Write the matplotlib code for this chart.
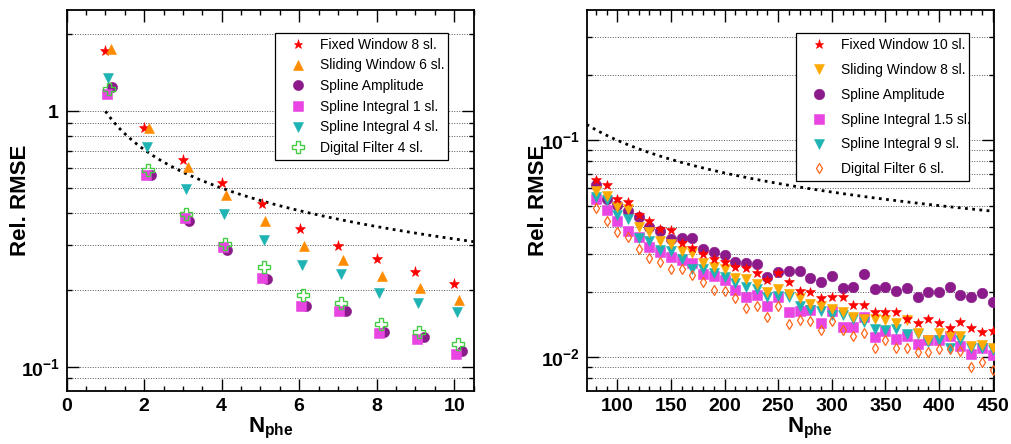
import numpy as np
import matplotlib
matplotlib.use('Agg')
import matplotlib.pyplot as plt
from matplotlib.ticker import FixedLocator, FixedFormatter, MultipleLocator, NullFormatter, FuncFormatter
from matplotlib.lines import Line2D

plt.rcParams['font.family'] = ['Liberation Sans', 'DejaVu Sans']
plt.rcParams['mathtext.fontset'] = 'custom'
plt.rcParams['mathtext.rm'] = 'Liberation Sans'
plt.rcParams['mathtext.bf'] = 'Liberation Sans:bold'
plt.rcParams['mathtext.it'] = 'Liberation Sans:italic'

# ---------------- left panel data ----------------
left_labels = ["Fixed Window 8 sl.", "Sliding Window 6 sl.", "Spline Amplitude",
               "Spline Integral 1 sl.", "Spline Integral 4 sl.", "Digital Filter 4 sl."]
left_x_fixed = [1.00, 2.00, 3.01, 4.01, 5.03, 6.01, 7.01, 8.00, 9.00, 10.00]
left_y_fixed = [1.72, 0.863, 0.647, 0.524, 0.435, 0.345, 0.298, 0.265, 0.235, 0.211]
left_x_slide = [1.14, 2.13, 3.13, 4.12, 5.13, 6.13, 7.13, 8.13, 9.13, 10.13]
left_y_slide = [1.745, 0.863, 0.605, 0.468, 0.372, 0.297, 0.2625, 0.226, 0.203, 0.183]
left_x_samp = [1.17, 2.17, 3.16, 4.15, 5.16, 6.18, 7.20, 8.20, 9.21, 10.20]
left_y_samp = [1.245, 0.562, 0.372, 0.285, 0.221, 0.172, 0.165, 0.1365, 0.1303, 0.1151]
left_x_sint1 = [1.03, 2.05, 3.05, 4.03, 5.05, 6.05, 7.04, 8.05, 9.04, 10.04]
left_y_sint1 = [1.173, 0.563, 0.382, 0.294, 0.223, 0.172, 0.165, 0.1354, 0.1288, 0.1124]
left_x_sint4 = [1.06, 2.07, 3.07, 4.06, 5.08, 6.07, 7.07, 8.07, 9.07, 10.07]
left_y_sint4 = [1.35, 0.725, 0.495, 0.395, 0.314, 0.251, 0.230, 0.194, 0.1775, 0.1636]
left_x_dig = [1.10, 2.10, 3.09, 4.09, 5.09, 6.10, 7.09, 8.10, 9.10, 10.10]
left_y_dig = [1.227, 0.591, 0.395, 0.303, 0.2455, 0.191, 0.178, 0.147, 0.1363, 0.1223]

# ---------------- right panel data ----------------
right_labels = ["Fixed Window 10 sl.", "Sliding Window 8 sl.", "Spline Amplitude",
                "Spline Integral 1.5 sl.", "Spline Integral 9 sl.", "Digital Filter 6 sl."]
right_x = [80, 90, 100, 110, 120, 130, 140, 150, 160, 170, 180, 190, 200, 210, 220,
           230, 240, 250, 260, 270, 280, 290, 300, 310, 320, 330, 340, 350, 360, 370,
           380, 390, 400, 410, 420, 430, 440, 450]
right_y_fixed = [0.0656, 0.0622, 0.0538, 0.0520, 0.0453, 0.0425, 0.0390, 0.0386, 0.0337, 0.0318,
                 0.0299, 0.0283, 0.0276, 0.0262, 0.0257, 0.0244, 0.0226, 0.0245, 0.0223, 0.0202,
                 0.0200, 0.0188, 0.0190, 0.0190, 0.0175, 0.0175, 0.0162, 0.0162, 0.0162, 0.0150,
                 0.0144, 0.0150, 0.0144, 0.0136, 0.0145, 0.0136, 0.0131, 0.0132]
right_y_slide = [0.0586, 0.0554, 0.0491, 0.0481, 0.0397, 0.0377, 0.0345, 0.0333, 0.0308, 0.0301,
                 0.0271, 0.0262, 0.0256, 0.0231, 0.0229, 0.0218, 0.0199, 0.0206, 0.0196, 0.0188,
                 0.0177, 0.0172, 0.0167, 0.0162, 0.0153, 0.0151, 0.0150, 0.0149, 0.0144, 0.0149,
                 0.0130, 0.0120, 0.0130, 0.0125, 0.0126, 0.0113, 0.0114, 0.0110]
right_y_samp = [0.0622, 0.0535, 0.0503, 0.0474, 0.0442, 0.0400, 0.0383, 0.0351, 0.0353, 0.0355,
                0.0317, 0.0305, 0.0297, 0.0276, 0.0271, 0.0269, 0.0235, 0.0246, 0.0250, 0.0251,
                0.0233, 0.0222, 0.0236, 0.0209, 0.0212, 0.0242, 0.0207, 0.0212, 0.0203, 0.0209,
                0.0189, 0.0199, 0.0201, 0.0212, 0.0194, 0.0189, 0.0197, 0.0179]
right_y_sint15 = [0.0538, 0.0477, 0.0426, 0.0383, 0.0357, 0.0323, 0.0306, 0.0289, 0.0281, 0.0271,
                  0.0242, 0.0237, 0.0227, 0.0204, 0.0189, 0.0194, 0.0172, 0.0189, 0.0162, 0.0164,
                  0.0165, 0.0144, 0.0164, 0.0138, 0.0138, 0.0154, 0.0124, 0.0132, 0.0122, 0.0125,
                  0.0115, 0.0120, 0.0120, 0.0125, 0.0113, 0.0104, 0.0111, 0.0102]
right_y_sint9 = [0.0546, 0.0531, 0.0453, 0.0435, 0.0356, 0.0342, 0.0312, 0.0308, 0.0283, 0.0256,
                 0.0256, 0.0244, 0.0235, 0.0221, 0.0212, 0.0206, 0.0189, 0.0192, 0.0190, 0.0173,
                 0.0166, 0.0163, 0.0157, 0.0156, 0.0151, 0.0145, 0.0135, 0.0134, 0.0135, 0.0128,
                 0.0128, 0.0118, 0.0120, 0.0110, 0.0120, 0.0111, 0.0111, 0.0108]
right_y_dig = [0.0488, 0.0426, 0.0378, 0.0357, 0.0314, 0.0287, 0.0275, 0.0256, 0.0254, 0.0239,
               0.0222, 0.0204, 0.0203, 0.0188, 0.0168, 0.0172, 0.0154, 0.0173, 0.0143, 0.0148,
               0.0147, 0.0134, 0.0147, 0.0134, 0.0125, 0.0129, 0.0111, 0.0120, 0.0111, 0.0111,
               0.0106, 0.0106, 0.0109, 0.0109, 0.0107, 0.00905, 0.00954, 0.00874]

# theory curve 1/sqrt(N) (Poisson limit)
left_curve_x = np.linspace(1.0, 10.5, 200)
right_curve_x = np.linspace(71.5, 451.5, 200)

RED = '#ff0000'
ORANGE_L = '#ff8c00'
ORANGE_R = '#ffaa00'
PURPLE = '#8b1a8b'
MAGENTA = '#e845e3'
TEAL = '#1fb3b3'
GREEN = '#44cc44'
DORANGE = '#ff6418'

fig = plt.figure(figsize=(10.12, 4.44), dpi=100)
axL = fig.add_axes([0.0659, 0.120, 0.4028, 0.8574])
axR = fig.add_axes([0.5797, 0.120, 0.4028, 0.8574])

def style_axis(ax):
    for s in ax.spines.values():
        s.set_linewidth(1.3)
    ax.tick_params(which='both', direction='in', top=True, right=True, width=1.0,
                   labelsize=14, pad=5)
    ax.tick_params(which='major', length=8.5)
    ax.tick_params(which='minor', length=3.8)
    ax.grid(axis='y', which='both', color='#555555', linestyle=(0, (1, 1.6)), linewidth=0.7)
    ax.set_axisbelow(True)

bf = lambda v, p: r'$\mathbf{%g}$' % v

# ---------- left ----------
axL.set_yscale('log')
axL.set_xlim(0, 10.52)
axL.set_ylim(0.0805, 2.49)
style_axis(axL)
axL.xaxis.set_major_locator(MultipleLocator(2))
axL.xaxis.set_minor_locator(MultipleLocator(0.5))
axL.xaxis.set_major_formatter(FuncFormatter(bf))
axL.yaxis.set_major_locator(FixedLocator([0.1, 1.0]))
axL.yaxis.set_major_formatter(FixedFormatter([r'$\mathbf{10^{-1}}$', r'$\mathbf{1}$']))
axL.yaxis.set_minor_locator(FixedLocator([0.09, 0.2, 0.3, 0.4, 0.5, 0.6, 0.7, 0.8, 0.9, 2.0]))
axL.yaxis.set_minor_formatter(NullFormatter())

axL.plot(left_curve_x, 1.0 / np.sqrt(left_curve_x), color='black', lw=2.0,
         linestyle=(0, (1, 1.6)), zorder=2)
axL.plot(left_x_fixed, left_y_fixed, '*', color=RED, ms=8.0, mew=0.4, zorder=3)
axL.plot(left_x_slide, left_y_slide, '^', color=ORANGE_L, ms=7.8, mew=0.4, zorder=3)
axL.plot(left_x_samp, left_y_samp, 'o', color=PURPLE, ms=7.3, mew=0.4, zorder=3)
axL.plot(left_x_sint1, left_y_sint1, 's', color=MAGENTA, ms=7.3, mew=0.4, zorder=4)
axL.plot(left_x_sint4, left_y_sint4, 'v', color=TEAL, ms=7.8, mew=0.4, zorder=4)
axL.plot(left_x_dig, left_y_dig, 'P', mfc='none', mec=GREEN, ms=8.5, mew=1.0, zorder=5)

hL = [Line2D([], [], ls='none', marker='*', color=RED, ms=6.5, mew=0.4),
      Line2D([], [], ls='none', marker='^', color=ORANGE_L, ms=7.6, mew=0.4),
      Line2D([], [], ls='none', marker='o', color=PURPLE, ms=7.3, mew=0.4),
      Line2D([], [], ls='none', marker='s', color=MAGENTA, ms=7.0, mew=0.4),
      Line2D([], [], ls='none', marker='v', color=TEAL, ms=7.6, mew=0.4),
      Line2D([], [], ls='none', marker='P', mfc='none', mec=GREEN, ms=8.5, mew=1.0)]
legL = axL.legend(hL, left_labels, loc='upper left', bbox_to_anchor=(0.511, 0.0, 0.425, 0.940),
                  mode='expand', borderaxespad=0, fontsize=10, frameon=True, fancybox=False,
                  edgecolor='black', framealpha=1, borderpad=0.35, handlelength=2.6,
                  handletextpad=0.3, labelspacing=0.48, numpoints=1)
legL.get_frame().set_linewidth(0.9)

axL.set_xlabel(r'$\mathbf{N_{phe}}$', fontsize=16)
axL.xaxis.set_label_coords(0.50, -0.065)
axL.set_ylabel('Rel. RMSE', fontsize=16, fontweight='bold')
axL.yaxis.set_label_coords(-0.087, 0.5)

# ---------- right ----------
axR.set_yscale('log')
axR.set_xlim(71.5, 451.5)
axR.set_ylim(0.00702, 0.398)
style_axis(axR)
axR.xaxis.set_major_locator(MultipleLocator(50))
axR.xaxis.set_minor_locator(MultipleLocator(10))
axR.xaxis.set_major_formatter(FuncFormatter(bf))
axR.yaxis.set_major_locator(FixedLocator([0.01, 0.1]))
axR.yaxis.set_major_formatter(FixedFormatter([r'$\mathbf{10^{-2}}$', r'$\mathbf{10^{-1}}$']))
axR.yaxis.set_minor_locator(FixedLocator([0.008, 0.009, 0.02, 0.03, 0.04, 0.05, 0.06,
                                          0.07, 0.08, 0.09, 0.2, 0.3]))
axR.yaxis.set_minor_formatter(NullFormatter())

axR.plot(right_curve_x, 1.0 / np.sqrt(right_curve_x), color='black', lw=2.0,
         linestyle=(0, (1, 1.6)), zorder=2)
axR.plot(right_x, right_y_samp, 'o', color=PURPLE, ms=7.6, mew=0.4, zorder=3)
axR.plot(right_x, right_y_sint15, 's', color=MAGENTA, ms=7.4, mew=0.4, zorder=4)
axR.plot(right_x, right_y_sint9, 'v', color=TEAL, ms=7.6, mew=0.4, zorder=5)
axR.plot(right_x, right_y_slide, 'v', color=ORANGE_R, ms=7.6, mew=0.4, zorder=6)
axR.plot(right_x, right_y_fixed, '*', color=RED, ms=7.6, mew=0.4, zorder=7)
axR.plot(right_x, right_y_dig, 'd', mfc='none', mec=DORANGE, ms=5.5, mew=0.9, zorder=8)

hR = [Line2D([], [], ls='none', marker='*', color=RED, ms=6.5, mew=0.4),
      Line2D([], [], ls='none', marker='v', color=ORANGE_R, ms=7.6, mew=0.4),
      Line2D([], [], ls='none', marker='o', color=PURPLE, ms=7.6, mew=0.4),
      Line2D([], [], ls='none', marker='s', color=MAGENTA, ms=7.4, mew=0.4),
      Line2D([], [], ls='none', marker='v', color=TEAL, ms=7.6, mew=0.4),
      Line2D([], [], ls='none', marker='d', mfc='none', mec=DORANGE, ms=5.5, mew=0.9)]
legR = axR.legend(hR, right_labels, loc='upper left', bbox_to_anchor=(0.513, 0.0, 0.425, 0.939),
                  mode='expand', borderaxespad=0, fontsize=10, frameon=True, fancybox=False,
                  edgecolor='black', framealpha=1, borderpad=0.35, handlelength=2.6,
                  handletextpad=0.3, labelspacing=0.78, numpoints=1)
legR.get_frame().set_linewidth(0.9)

axR.set_xlabel(r'$\mathbf{N_{phe}}$', fontsize=16)
axR.xaxis.set_label_coords(0.548, -0.065)
axR.set_ylabel('Rel. RMSE', fontsize=16, fontweight='bold')
axR.yaxis.set_label_coords(-0.092, 0.5)

fig.savefig('out.png', dpi=100)
